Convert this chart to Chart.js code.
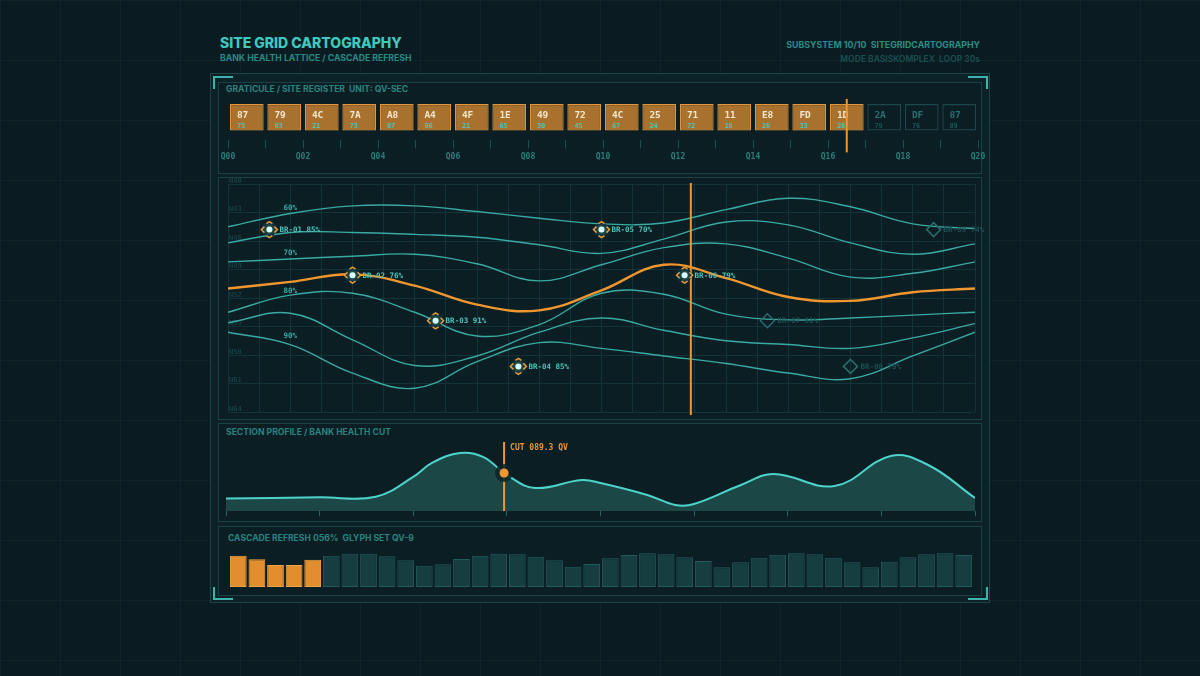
<!DOCTYPE html>
<html>
<head>
<meta charset="utf-8">
<script src="https://cdn.jsdelivr.net/npm/chart.js@4.4.1/dist/chart.umd.min.js"></script>
<style>
  body {
    margin: 0; width: 1200px; height: 676px; overflow: hidden; position: relative;
    background-color: #0a1c21;
    background-image:
      linear-gradient(rgba(40, 84, 90, 0.16) 1px, transparent 1px),
      linear-gradient(90deg, rgba(40, 84, 90, 0.16) 1px, transparent 1px);
    background-size: 60px 60px;
    font-family: Inter, "DejaVu Sans", sans-serif;
  }
  .abs { position: absolute; white-space: pre; }
  #title { left: 220px; top: 34px; font-size: 14px; font-weight: 800; color: #3ec8bf; }
  #subtitle { left: 220px; top: 53px; font-size: 8.7px; font-weight: 700; color: #278a85; }
  #sys1 { right: 220px; top: 39px; font-size: 8.8px; font-weight: 700; color: #2a8d88; text-align: right; }
  #sys2 { right: 220px; top: 54px; font-size: 8.5px; font-weight: 600; color: #1a4f52; text-align: right; }
  #frame { left: 210px; top: 73px; width: 778px; height: 528px; border: 1px solid #1b4449; background: #0c2227; }
  .panel { position: absolute; left: 218px; width: 762px; border: 1px solid #1a4147; background: #0a1e24; }
  .head { font-size: 8.6px; font-weight: 700; color: #2a837f; }
  .corner { position: absolute; width: 18px; height: 11px; border-color: #3fb3ab; border-style: solid; border-width: 0; }
  canvas { position: absolute; }
</style>
</head>
<body>
<div class="abs" id="title">SITE GRID CARTOGRAPHY</div>
<div class="abs" id="subtitle">BANK HEALTH LATTICE / CASCADE REFRESH</div>
<div class="abs" id="sys1">SUBSYSTEM 10/10  SITEGRIDCARTOGRAPHY</div>
<div class="abs" id="sys2">MODE BASISKOMPLEX  LOOP 30s</div>

<div class="abs" id="frame"></div>
<div class="panel" style="top:82px;height:90px"></div>
<div class="panel" style="top:177px;height:241px"></div>
<div class="panel" style="top:423px;height:97px"></div>
<div class="panel" style="top:526px;height:68px"></div>

<div class="corner" style="left:213px;top:76px;border-top-width:2px;border-left-width:2px"></div>
<div class="corner" style="left:968px;top:76px;border-top-width:2px;border-right-width:2px"></div>
<div class="corner" style="left:213px;top:587px;border-bottom-width:2px;border-left-width:2px"></div>
<div class="corner" style="left:968px;top:587px;border-bottom-width:2px;border-right-width:2px"></div>

<div class="abs head" style="left:226px;top:84px">GRATICULE / SITE REGISTER  UNIT: QV-SEC</div>
<div class="abs head" style="left:226px;top:427px">SECTION PROFILE / BANK HEALTH CUT</div>
<div class="abs head" style="left:228px;top:533px">CASCADE REFRESH 056%  GLYPH SET QV-9</div>

<canvas id="regChart" width="780" height="70" style="left:212px;top:96px"></canvas>
<canvas id="mainChart" width="780" height="240" style="left:212px;top:178px"></canvas>
<canvas id="profileChart" width="780" height="86" style="left:212px;top:436px"></canvas>
<canvas id="cascadeChart" width="780" height="45" style="left:212px;top:545px"></canvas>

<script>
// register strip
const regCodes = ['87','79','4C','7A','A8','A4','4F','1E','49','72','4C','25','71','11','E8','FD','1D','2A','DF','87'];
const regValues = ['73','03','21','73','87','06','21','65','30','45','67','24','72','16','26','33','26','79','76','89'];
const regCut = 16.5;

// lattice lines (x in grid columns, y in N units)
const latticeX = [0, 2, 4, 6, 8, 10, 12, 14, 16, 18, 20, 22, 24];
const line60a = [44.5, 43.1, 42.3, 42.3, 42.9, 43.6, 44.2, 44.1, 42.7, 41.5, 42.4, 44.2, 44.7];
const line60b = [46.2, 45.1, 45.1, 45.3, 45.6, 46.4, 47.3, 45.8, 44.0, 44.3, 46.2, 47.4, 46.3];
const line70 = [48.2, 47.9, 47.6, 47.4, 48.4, 50.2, 48.5, 46.7, 46.3, 47.8, 49.8, 49.4, 48.2];
const healthLine = [51.0, 50.3, 49.5, 50.7, 52.7, 53.3, 51.2, 48.5, 49.9, 51.9, 52.3, 51.4, 51.0];
const line80 = [53.5, 51.7, 51.5, 53.5, 56.0, 54.8, 51.5, 51.6, 53.7, 54.3, 54.1, 53.8, 53.5];
const line85 = [54.6, 53.6, 56.4, 59.1, 58.1, 55.6, 54.1, 55.4, 56.5, 56.9, 57.3, 56.2, 54.7];
const line90 = [55.6, 56.9, 59.9, 61.5, 58.7, 56.7, 57.3, 58.1, 58.9, 59.9, 60.5, 58.1, 55.6];
const latticeCut = 14.87;
const contourLabels = ['60%', '70%', '80%', '90%'];
const contourLevels = [42.5, 47.3, 51.3, 56.0];

// bank markers
const bankNames = ['BR-01','BR-02','BR-03','BR-04','BR-05','BR-06','BR-07','BR-08','BR-09'];
const bankHealth = [85, 76, 91, 85, 70, 79, 81, 78, 74];
const bankX = [1.33, 4.0, 6.67, 9.33, 12.0, 14.67, 17.33, 20.0, 22.67];
const bankY = [44.8, 49.6, 54.4, 59.2, 44.8, 49.6, 54.4, 59.2, 44.8];
const bankActive = 6;

// section profile
const profileX = [0, 1, 1.6, 2, 2.2, 2.5, 2.75, 3, 3.3, 3.8, 4, 4.5, 4.8, 5, 5.5, 5.85, 6.5, 7.1, 7.5, 8];
const profileY = [18, 19.5, 20.5, 48.6, 68.6, 82.9, 77.1, 51.4, 32.9, 44.3, 40, 22.9, 8.6, 10, 37.1, 52.9, 35.7, 78.6, 65.7, 18.6];
const cutX = 2.97;
const cutY = 54.3;
const cutLabel = 'CUT 089.3 QV';

// cascade refresh
const cascadeValues = [31.3, 27.7, 22, 22, 27.3, 31.3, 33.3, 33.3, 30.7, 26.7, 21.3, 22.7, 28, 31.3, 33.3, 32.7, 30.3, 26.7, 20.3, 23,
  28.7, 32, 33.7, 32.7, 29.7, 26, 19.7, 24.7, 29.3, 32.3, 33.7, 32.7, 29.3, 24.7, 19.7, 25.3, 29.7, 32.7, 33.7, 32];
const cascadeActive = 5;

const ORANGE = '#f0962f';
const TEAL = '#3aa9a1';
const MONO = '"DejaVu Sans Mono", monospace';

document.addEventListener("DOMContentLoaded", function () {

  // register boxes
  const regText = {
    id: 'regText',
    afterDatasetsDraw(chart) {
      const c = chart.ctx;
      const meta = chart.getDatasetMeta(0);
      c.save();
      c.textBaseline = 'middle';
      meta.data.forEach((bar, i) => {
        const on = i < regCut;
        const left = bar.x - bar.width / 2 + 7;
        c.font = 'bold 9.5px ' + MONO;
        c.fillStyle = on ? '#f4e6cc' : '#2a6f70';
        c.fillText(regCodes[i], left, bar.y + 11.5);
        c.font = 'bold 7px ' + MONO;
        c.fillStyle = on ? '#4cc4bb' : '#1d5456';
        c.fillText(regValues[i], left, bar.y + 22.5);
      });
      const x = chart.scales.x.getPixelForValue(regCut);
      c.strokeStyle = ORANGE;
      c.lineWidth = 2;
      c.beginPath();
      c.moveTo(x, 3);
      c.lineTo(x, chart.chartArea.bottom + 12);
      c.stroke();
      c.restore();
    }
  };

  new Chart(document.getElementById('regChart'), {
    type: 'bar',
    data: {
      datasets: [{
        data: regCodes.map((c, i) => ({ x: i + 0.5, y: [0.27, 1] })),
        backgroundColor: ctx => ctx.dataIndex < regCut ? '#a8712e' : 'rgba(0,0,0,0)',
        borderColor: ctx => ctx.dataIndex < regCut ? '#e3973a' : '#1c474b',
        borderWidth: 1.2,
        borderSkipped: false,
        barPercentage: 0.9,
        categoryPercentage: 1
      }]
    },
    options: {
      responsive: false,
      animation: false,
      layout: { padding: { left: 16, right: 14, top: 8, bottom: 0 } },
      plugins: { legend: { display: false }, tooltip: { enabled: false } },
      scales: {
        x: {
          type: 'linear', min: 0, max: 20, offset: false,
          ticks: {
            stepSize: 1, autoSkip: false, maxRotation: 0, padding: 4,
            color: '#2a7f7c', font: { family: MONO, size: 8, weight: 'bold' },
            callback: v => v % 2 === 0 ? 'Q' + String(v).padStart(2, '0') : ''
          },
          grid: { offset: false, drawOnChartArea: false, tickLength: 8, color: '#1f4b50' },
          border: { display: false }
        },
        y: { display: false, min: 0, max: 1 }
      }
    },
    plugins: [regText]
  });

  // lattice
  const latticeMarks = {
    id: 'latticeMarks',
    afterDatasetsDraw(chart) {
      const c = chart.ctx;
      const xs = chart.scales.x, ys = chart.scales.y;
      c.save();
      // contour labels
      c.font = 'bold 7.5px ' + MONO;
      c.fillStyle = '#3aa9a1';
      c.textAlign = 'center';
      c.textBaseline = 'middle';
      contourLabels.forEach((t, i) => c.fillText(t, xs.getPixelForValue(2), ys.getPixelForValue(contourLevels[i])));

      // cut line
      const cx = xs.getPixelForValue(latticeCut);
      c.strokeStyle = ORANGE;
      c.lineWidth = 2;
      c.beginPath();
      c.moveTo(cx, chart.chartArea.top - 1);
      c.lineTo(cx, chart.chartArea.bottom + 3);
      c.stroke();

      // bank markers
      const meta = chart.getDatasetMeta(chart.data.datasets.length - 1);
      c.textAlign = 'left';
      meta.data.forEach((pt, i) => {
        const x = pt.x, y = pt.y;
        if (i < bankActive) {
          c.fillStyle = '#0b2026';
          c.beginPath(); c.arc(x, y, 7, 0, Math.PI * 2); c.fill();
          c.strokeStyle = ORANGE;
          c.lineWidth = 1.5;
          c.beginPath();
          c.moveTo(x - 5, y - 3); c.lineTo(x - 8, y); c.lineTo(x - 5, y + 3);
          c.moveTo(x + 5, y - 3); c.lineTo(x + 8, y); c.lineTo(x + 5, y + 3);
          c.moveTo(x - 3, y - 6); c.lineTo(x, y - 8); c.lineTo(x + 3, y - 6);
          c.moveTo(x - 3, y + 6); c.lineTo(x, y + 8); c.lineTo(x + 3, y + 6);
          c.stroke();
          c.shadowColor = '#6ff0e4';
          c.shadowBlur = 6;
          c.fillStyle = '#d9fffb';
          c.beginPath(); c.arc(x, y, 3, 0, Math.PI * 2); c.fill();
          c.shadowBlur = 0;
          c.fillStyle = '#4cc4bb';
        } else {
          c.strokeStyle = '#2a6c6c';
          c.lineWidth = 1.5;
          c.beginPath();
          c.moveTo(x - 7, y); c.lineTo(x, y - 7); c.lineTo(x + 7, y); c.lineTo(x, y + 7); c.closePath();
          c.stroke();
          c.fillStyle = '#1d5254';
        }
        c.font = 'bold 7.5px ' + MONO;
        c.fillText(bankNames[i] + ' ' + bankHealth[i] + '%', x + 10, y + 0.5);
      });
      c.restore();
    }
  };

  const latticeSet = (vals, color, width) => ({
    data: latticeX.map((x, i) => ({ x: x, y: vals[i] })),
    borderColor: color,
    borderWidth: width,
    pointRadius: 0,
    tension: 0.4,
    fill: false
  });

  new Chart(document.getElementById('mainChart'), {
    type: 'line',
    data: {
      datasets: [
        latticeSet(line60a, TEAL, 1.4),
        latticeSet(line60b, TEAL, 1.4),
        latticeSet(line70, TEAL, 1.4),
        latticeSet(line80, TEAL, 1.4),
        latticeSet(line85, TEAL, 1.4),
        latticeSet(line90, TEAL, 1.4),
        latticeSet(healthLine, ORANGE, 2.4),
        {
          data: bankX.map((x, i) => ({ x: x, y: bankY[i] })),
          showLine: false,
          pointRadius: 0
        }
      ]
    },
    options: {
      responsive: false,
      animation: false,
      layout: { padding: { left: 14, right: 17, top: 6, bottom: 6 } },
      plugins: { legend: { display: false }, tooltip: { enabled: false } },
      scales: {
        x: {
          type: 'linear', min: 0, max: 24,
          ticks: { stepSize: 1, display: false },
          grid: { color: '#13333a', drawTicks: false },
          border: { display: false }
        },
        y: {
          reverse: true, min: 40, max: 64,
          ticks: {
            stepSize: 3, mirror: true, padding: 1, labelOffset: -3,
            color: '#1b4a4e', font: { family: MONO, size: 7 },
            callback: v => 'N' + v
          },
          grid: { color: '#13333a', drawTicks: false },
          border: { display: false }
        }
      }
    },
    plugins: [latticeMarks]
  });

  // section profile
  const cutMark = {
    id: 'cutMark',
    afterDatasetsDraw(chart) {
      const c = chart.ctx;
      const x = chart.scales.x.getPixelForValue(cutX);
      const y = chart.scales.y.getPixelForValue(cutY);
      c.save();
      c.strokeStyle = ORANGE;
      c.lineWidth = 2;
      c.beginPath();
      c.moveTo(x, chart.chartArea.top + 1);
      c.lineTo(x, chart.chartArea.bottom);
      c.stroke();
      c.fillStyle = 'rgba(12,34,38,0.85)';
      c.beginPath(); c.arc(x, y, 9, 0, Math.PI * 2); c.fill();
      c.fillStyle = ORANGE;
      c.beginPath(); c.arc(x, y, 4.5, 0, Math.PI * 2); c.fill();
      c.font = 'bold 8px ' + MONO;
      c.textBaseline = 'middle';
      c.fillText(cutLabel, x + 6, chart.chartArea.top + 7);
      c.restore();
    }
  };

  new Chart(document.getElementById('profileChart'), {
    type: 'line',
    data: {
      datasets: [{
        data: profileX.map((x, i) => ({ x: x, y: profileY[i] })),
        borderColor: '#4dd4ca',
        borderWidth: 2,
        backgroundColor: '#1b4747',
        fill: 'origin',
        pointRadius: 0,
        tension: 0.4
      }]
    },
    options: {
      responsive: false,
      animation: false,
      layout: { padding: { left: 14, right: 17, top: 5, bottom: 6 } },
      plugins: { legend: { display: false }, tooltip: { enabled: false } },
      scales: {
        x: {
          type: 'linear', min: 0, max: 8,
          ticks: { stepSize: 1, display: false },
          grid: { drawOnChartArea: false, tickLength: 5, color: '#2a6466' },
          border: { display: false }
        },
        y: { display: false, min: 0, max: 100 }
      }
    },
    plugins: [cutMark]
  });

  // cascade bars
  new Chart(document.getElementById('cascadeChart'), {
    type: 'bar',
    data: {
      labels: cascadeValues.map((v, i) => i + 1),
      datasets: [{
        data: cascadeValues,
        backgroundColor: ctx => ctx.dataIndex < cascadeActive ? '#e08e2e' : '#163e41',
        borderColor: ctx => ctx.dataIndex < cascadeActive ? '#f0a445' : '#255a5c',
        borderWidth: 1,
        borderSkipped: false,
        barPercentage: 0.9,
        categoryPercentage: 1
      }]
    },
    options: {
      responsive: false,
      animation: false,
      layout: { padding: { left: 17, right: 19, top: 2, bottom: 3 } },
      plugins: { legend: { display: false }, tooltip: { enabled: false } },
      scales: {
        x: { display: false },
        y: { display: false, min: 0, max: 40 }
      }
    }
  });

});
</script>
</body>
</html>
